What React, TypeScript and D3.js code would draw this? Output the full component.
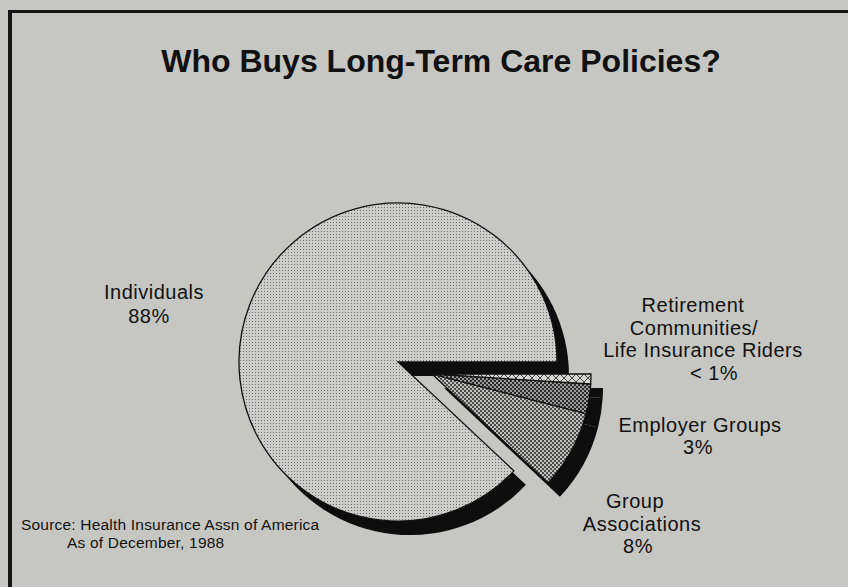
import React from "react";
import * as d3 from "d3";

const categories = ["Retirement", "Employer Groups", "Group Associations", "Individuals"];
const values = [1, 3, 8, 88];
const valueLabels = ["< 1%", "3%", "8%", "88%"];
const labelLines = [
  ["Retirement", "Communities/", "Life Insurance Riders"],
  ["Employer Groups"],
  ["Group", "Associations"],
  ["Individuals"],
];
const title = "Who Buys Long-Term Care Policies?";
const sourceLines = ["Source: Health Insurance Assn of America", "As of December, 1988"];

// layout (not data)
const W = 848, H = 587;
const cx = 398, cy = 362, R = 159;
const explode = [34, 12];
const shadow = [12, 14];
const patternIds = ["patRet", "patEmp", "patGrp", "patInd"];
const labelPos = [
  { x: [693, 694, 703], y: [312, 335, 357], vx: 714, vy: 380 },
  { x: [700], y: [432], vx: 698, vy: 454 },
  { x: [635, 642], y: [508, 531], vx: 638, vy: 553 },
  { x: [154], y: [299], vx: 149, vy: 323 },
];
const FONT = "'Liberation Sans', Arial, Helvetica, sans-serif";

export default function App() {
  const pie = d3
    .pie<number>()
    .sort(null)
    .startAngle(Math.PI / 2)
    .endAngle(Math.PI / 2 + 2 * Math.PI)
    .value((d) => d);
  const arcs = pie(values);
  const arc = d3.arc<d3.PieArcDatum<number>>().innerRadius(0).outerRadius(R);

  const isExploded = (i: number) => i < 3;
  const tx = (i: number) => (isExploded(i) ? cx + explode[0] : cx);
  const ty = (i: number) => (isExploded(i) ? cy + explode[1] : cy);

  return (
    <svg
      width={W}
      height={H}
      style={{ position: "absolute", left: 0, top: 0, background: "#c6c7c3" }}
      fontFamily={FONT}
    >
      <defs>
        <pattern id="patInd" width={3} height={3} patternUnits="userSpaceOnUse">
          <rect width={3} height={3} fill="#cdcdcb" />
          <rect x={1} y={1} width={1} height={1} fill="#6a6a6a" />
        </pattern>
        <pattern id="patGrp" width={4} height={4} patternUnits="userSpaceOnUse">
          <rect width={4} height={4} fill="#c0c0be" />
          <rect x={0} y={0} width={2} height={2} fill="#4a4a4a" />
          <rect x={2} y={2} width={2} height={2} fill="#4a4a4a" />
        </pattern>
        <pattern id="patEmp" width={4} height={4} patternUnits="userSpaceOnUse">
          <rect width={4} height={4} fill="#9c9c9c" />
          <rect x={0} y={0} width={2} height={2} fill="#2a2a2a" />
          <rect x={2} y={2} width={2} height={2} fill="#2a2a2a" />
        </pattern>
        <pattern id="patRet" width={8} height={8} patternUnits="userSpaceOnUse">
          <rect width={8} height={8} fill="#d6d6d4" />
          <path d="M0,0L8,8M8,0L0,8" stroke="#333" strokeWidth={0.9} />
        </pattern>
      </defs>

      <rect width={W} height={H} fill="#c6c7c3" />
      {/* frame */}
      <line x1={8} x2={W} y1={11.5} y2={11.5} stroke="#151515" strokeWidth={3} />
      <line x1={10} x2={10} y1={10} y2={H} stroke="#151515" strokeWidth={4} />

      <text x={441} y={72} textAnchor="middle" fontSize={32} fontWeight="bold" fill="#111">
        {title}
      </text>

      {/* shadows */}
      {arcs.map((a, i) => (
        <path
          key={"s" + i}
          d={arc(a) || ""}
          transform={`translate(${tx(i) + shadow[0]},${ty(i) + shadow[1]})`}
          fill="#0d0d0d"
        />
      ))}
      {/* slices: Individuals first, exploded on top */}
      {[3, 2, 1, 0].map((i) => (
        <path
          key={"p" + i}
          d={arc(arcs[i]) || ""}
          transform={`translate(${tx(i)},${ty(i)})`}
          fill={`url(#${patternIds[i]})`}
          stroke="#111"
          strokeWidth={1.3}
          strokeLinejoin="miter"
          strokeDasharray={i === 1 ? "6 2" : undefined}
        />
      ))}

      {/* labels */}
      {labelLines.map((lines, i) => (
        <g key={"l" + i} fontSize={20} fill="#111" textAnchor="middle" letterSpacing={0.5}>
          {lines.map((t, j) => (
            <text key={j} x={labelPos[i].x[j]} y={labelPos[i].y[j]}>
              {t}
            </text>
          ))}
          <text x={labelPos[i].vx} y={labelPos[i].vy}>
            {valueLabels[i]}
          </text>
        </g>
      ))}

      <text x={21} y={530} fontSize={15.5} fill="#111" letterSpacing={0.2}>
        {sourceLines[0]}
      </text>
      <text x={67} y={548} fontSize={15.5} fill="#111" letterSpacing={0.2}>
        {sourceLines[1]}
      </text>
    </svg>
  );
}
